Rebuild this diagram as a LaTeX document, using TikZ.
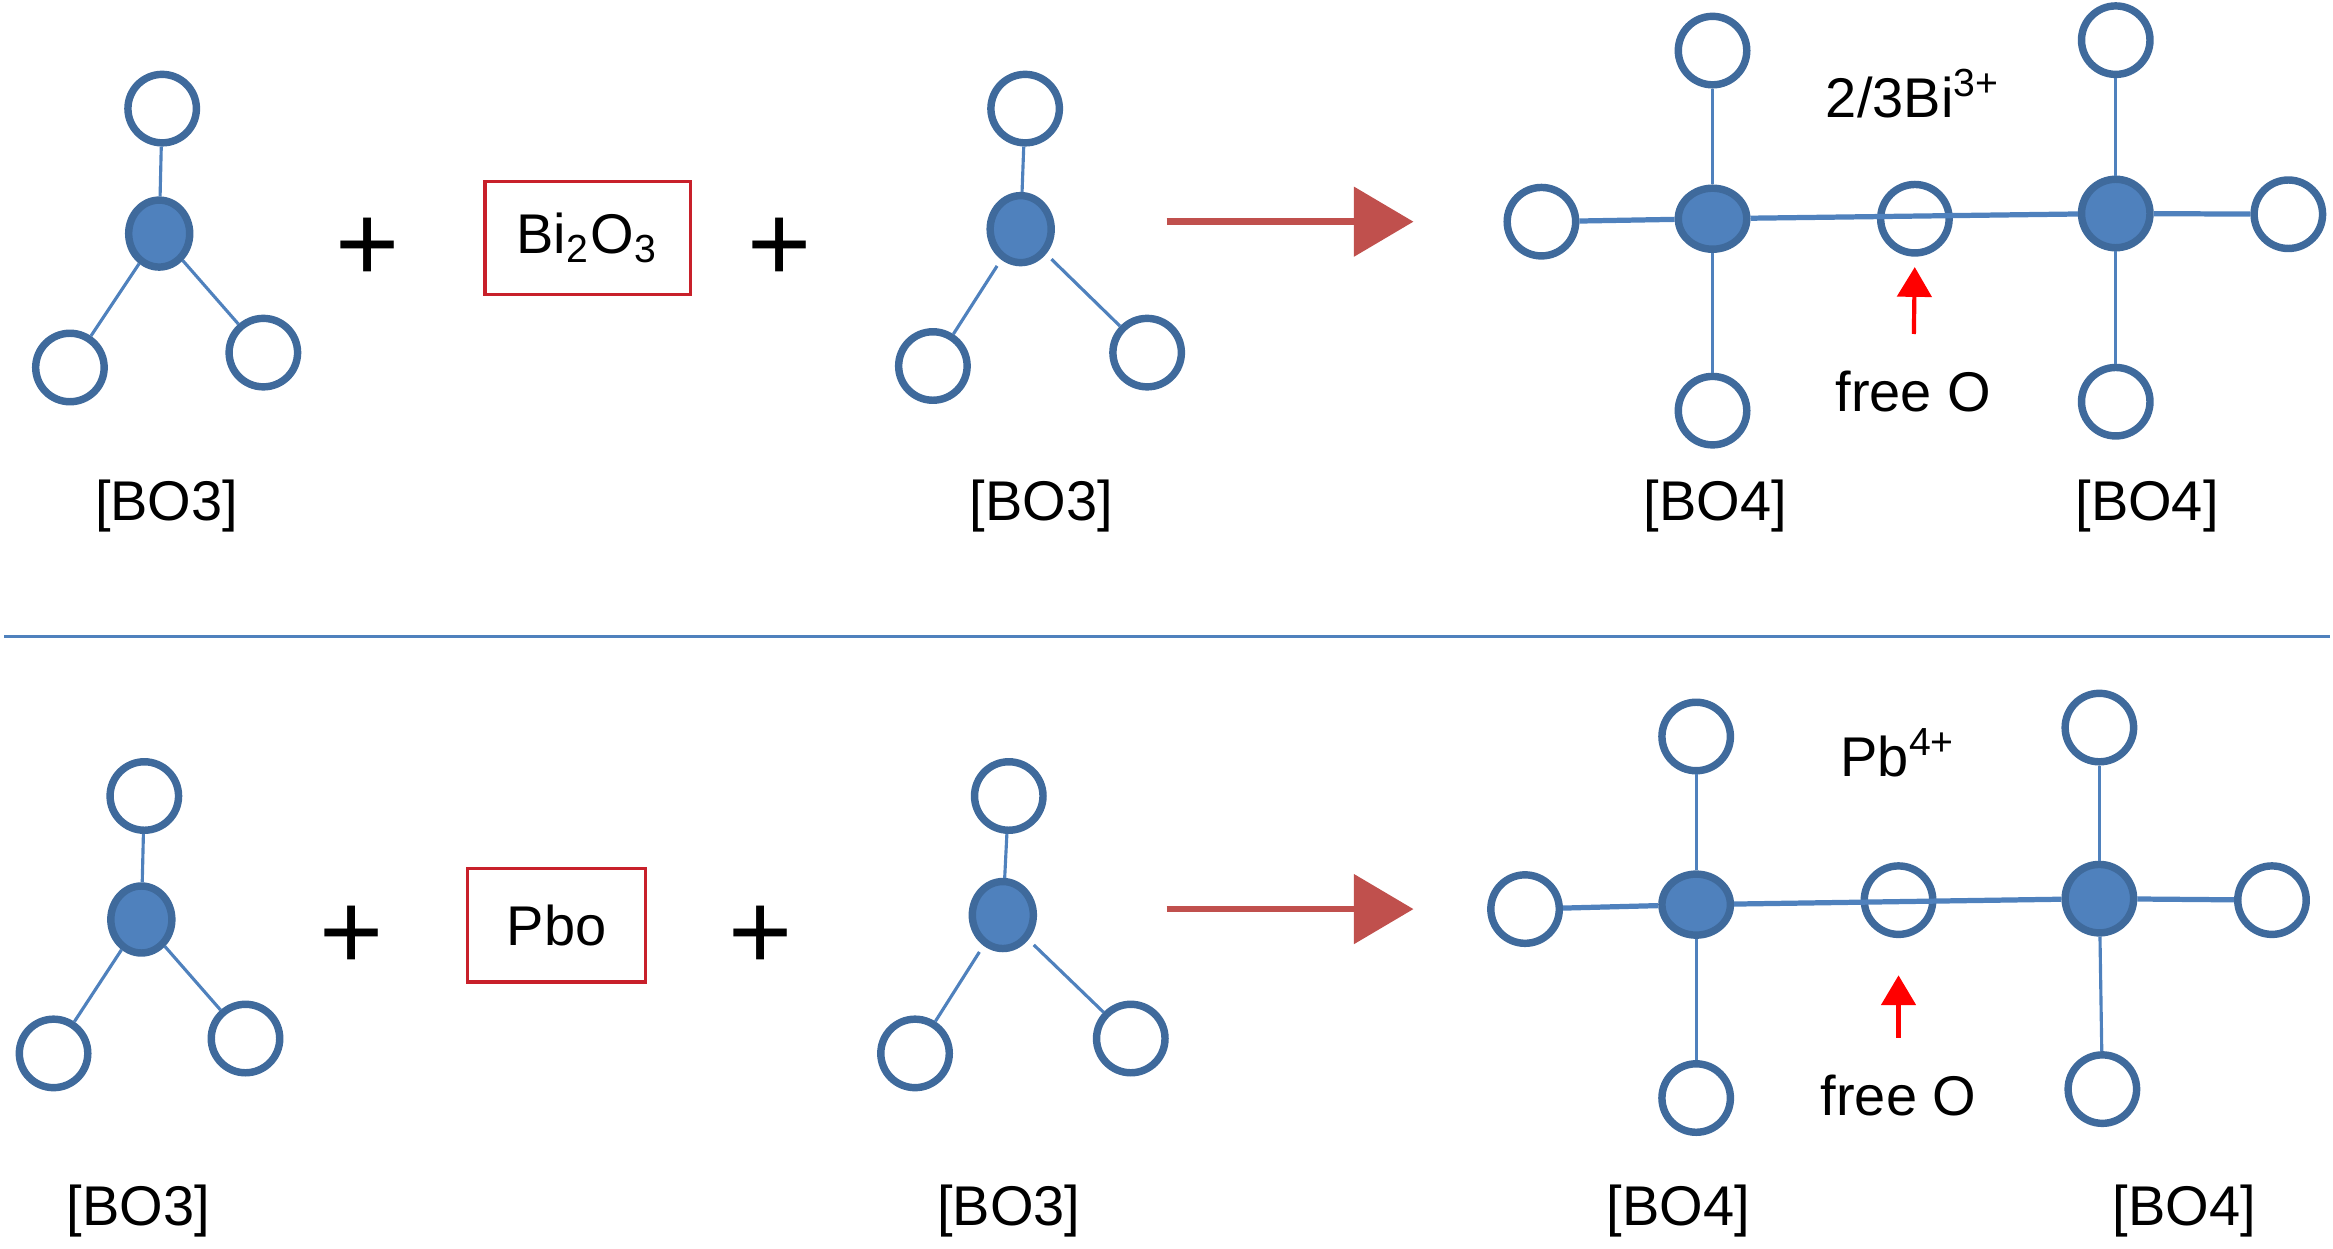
\documentclass[tikz,border=0pt]{standalone}
\usepackage{fontspec}
\setmainfont{Liberation Sans}
\usetikzlibrary{shapes.geometric, arrows.meta}
\definecolor{atomline}{HTML}{3F6A9C}
\definecolor{atomfill}{HTML}{4F81BD}
\definecolor{boxred}{HTML}{C8202A}
\definecolor{reactred}{HTML}{C0504D}
\tikzset{
    oxy/.style={ellipse, draw=atomline, line width=.05cm, inner sep=0, minimum width=.46cm, minimum height=.46cm},
    boron/.style={ellipse, draw=atomline, fill=atomfill, line width=.05cm, inner sep=0, minimum width=.41cm, minimum height=.45cm},
    wideboron/.style={boron, minimum width=.46cm, minimum height=.41cm},
    bond/.style={atomfill, line width=.6pt},
    chain/.style={atomfill, line width=1pt},
    txt/.style={inner sep=0, font=\fontsize{10.7}{12}\selectfont},
    plus/.style={inner sep=0, font=\fontsize{21}{21}\selectfont},
    oxide/.style={draw=boxred, line width=.6pt, inner sep=0, font=\fontsize{10.7}{12}\selectfont},
    react/.style={reactred, line width=.045cm, -{Triangle[length=.4cm, width=.46cm]}},
    freearrow/.style={red, line width=.8pt, -{Triangle[length=.2cm, width=.23cm]}}
}
\begin{document}
\begin{tikzpicture}[x=.01cm, y=-.01cm]
            \useasboundingbox(0, 0)rectangle(1568, 839.4);
            \draw[bond](3, 428)--(1566, 428);
            \node[boron](ba) at (107, 157){};
            \node[oxy](bat) at (109, 73){};
            \node[oxy](bal) at (47, 247){};
            \node[oxy](bar) at (177, 237){};
            \draw[bond](ba)--(bat);
            \draw[bond](ba)--(bal);
            \draw[bond](ba)--(bar);
            \node[txt](bat3) at (112, 340){[BO3]};
            \node[plus](pa) at (247, 168){+};
            \node[oxide, minimum width=1.38cm, minimum height=.76cm](bi) at (395, 160){Bi\textsubscript{2}O\textsubscript{3}};
            \node[plus](pb) at (524, 168){+};
            \node[boron](bb) at (686, 154){};
            \node[oxy](bbt) at (689, 73){};
            \node[oxy](bbl) at (627, 246){};
            \node[oxy](bbr) at (771, 237){};
            \draw[bond](bb)--(bbt);
            \draw[bond, shorten <=.05cm](bb)--(bbl);
            \draw[bond, shorten <=.05cm](bb)--(bbr);
            \node[txt](bbt3) at (700, 340){[BO3]};
            \coordinate(ra) at (784, 149);
            \coordinate(rb) at (950, 149);
            \draw[react](ra)--(rb);
            \node[wideboron](ca) at (1151, 147){};
            \node[wideboron, minimum height=.46cm](cb) at (1422, 143.5){};
            \node[oxy](fa) at (1287, 147){};
            \node[oxy](cat) at (1151, 34){};
            \node[oxy](cal) at (1036, 149){};
            \node[oxy](cad) at (1151, 276){};
            \node[oxy](cbt) at (1422, 27){};
            \node[oxy](cbr) at (1538, 144){};
            \node[oxy](cbd) at (1422, 270){};
            \draw[chain](ca)--(cb);
            \draw[bond](ca)--(cat);
            \draw[chain](ca)--(cal);
            \draw[bond](ca)--(cad);
            \draw[bond](cb)--(cbt);
            \draw[chain](cb)--(cbr);
            \draw[bond](cb)--(cbd);
            \node[txt](ion) at (1286, 63){2/3Bi\textsuperscript{3+}};
            \node[txt](fta) at (1286, 263){free O};
            \draw[freearrow, shorten <=.24cm, shorten >=.07cm](fta.north)--(fa.south);
            \node[txt](ca4) at (1153, 340){[BO4]};
            \node[txt](cb4) at (1443, 340){[BO4]};
            \node[boron](da) at (95, 618){};
            \node[oxy](dat) at (97, 535){};
            \node[oxy](dal) at (36, 708){};
            \node[oxy](dar) at (165, 698){};
            \draw[bond](da)--(dat);
            \draw[bond](da)--(dal);
            \draw[bond](da)--(dar);
            \node[txt](dat3) at (93, 814){[BO3]};
            \node[plus](pc) at (236, 630){+};
            \node[oxide, minimum width=1.2cm, minimum height=.76cm](pbo) at (374, 622){Pbo};
            \node[plus](pd) at (511, 630){+};
            \node[boron](db) at (674, 615){};
            \node[oxy](dbt) at (678, 535){};
            \node[oxy](dbl) at (615, 708){};
            \node[oxy](dbr) at (760, 698){};
            \draw[bond](db)--(dbt);
            \draw[bond, shorten <=.05cm](db)--(dbl);
            \draw[bond, shorten <=.05cm](db)--(dbr);
            \node[txt](dbt3) at (678, 814){[BO3]};
            \coordinate(rc) at (784, 611);
            \coordinate(rd) at (950, 611);
            \draw[react](rc)--(rd);
            \node[wideboron](ea) at (1140, 608){};
            \node[wideboron, minimum height=.46cm](eb) at (1411, 604){};
            \node[oxy](fb) at (1276, 605){};
            \node[oxy](eat) at (1140, 495){};
            \node[oxy](eal) at (1025, 611){};
            \node[oxy](ead) at (1140, 738){};
            \node[oxy](ebt) at (1411, 489){};
            \node[oxy](ebr) at (1527, 605){};
            \node[oxy](ebd) at (1413, 732){};
            \draw[chain](ea)--(eb);
            \draw[bond](ea)--(eat);
            \draw[chain](ea)--(eal);
            \draw[bond](ea)--(ead);
            \draw[bond](eb)--(ebt);
            \draw[chain](eb)--(ebr);
            \draw[bond](eb)--(ebd);
            \node[txt](ionb) at (1276, 506){Pb\textsuperscript{4+}};
            \node[txt](ftb) at (1276, 736){free O};
            \draw[freearrow, shorten <=.24cm, shorten >=.25cm](ftb.north)--(fb.south);
            \node[txt](ea4) at (1128, 814){[BO4]};
            \node[txt](eb4) at (1468, 814){[BO4]};
        \end{tikzpicture}
\end{document}
